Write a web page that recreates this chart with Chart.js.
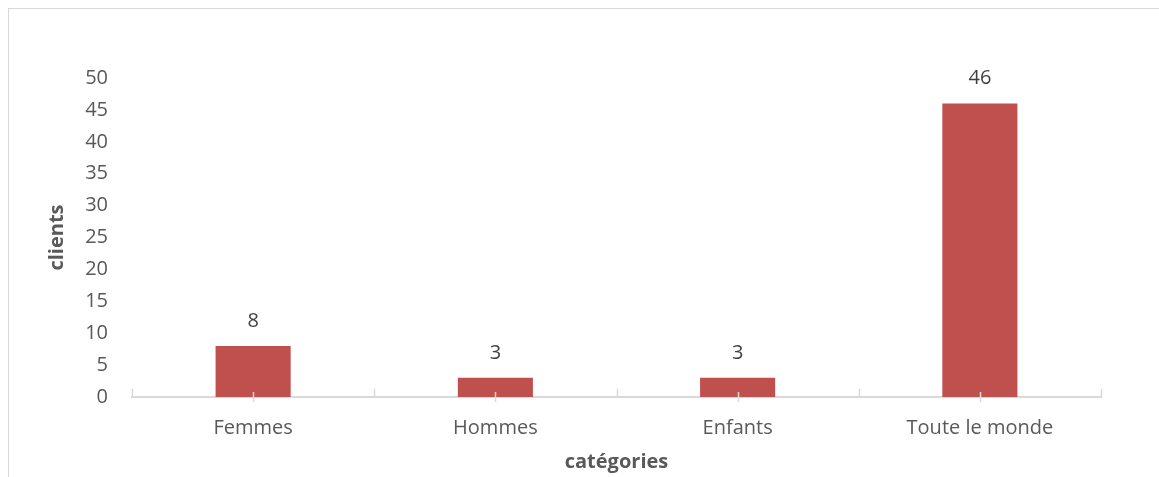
<!DOCTYPE html>
<html lang="fr">
<head>
    <meta charset="UTF-8">
    <title>clients par catégories</title>
    <script src="https://cdn.jsdelivr.net/npm/chart.js"></script>
    <style>
        html, body { margin: 0; padding: 0; background: #fff; }
        #wrap { width: 1159px; height: 477px; position: relative; }
    </style>
</head>
<body>
<div id="wrap">
    <canvas id="chart"></canvas>
</div>
<script>
const categories = ['Femmes', 'Hommes', 'Enfants', 'Toute le monde'];
const clients = [8, 3, 3, 46];
const yTicks = [0, 5, 10, 15, 20, 25, 30, 35, 40, 45, 50];

const FONT = '"Open Sans", sans-serif';
const TEXT = '#595959';
const AXIS = '#d9d9d9';

// cadre gris autour du graphique
const frame = {
    id: 'frame',
    beforeDraw(chart) {
        const ctx = chart.ctx;
        ctx.save();
        ctx.strokeStyle = AXIS;
        ctx.lineWidth = 1;
        ctx.strokeRect(8.5, 8.5, chart.width + 20, chart.height + 20);
        ctx.restore();
    }
};

// petites graduations sur l'axe des catégories
const xTicks = {
    id: 'xTicks',
    afterDraw(chart) {
        const x = chart.scales.x;
        const y0 = chart.chartArea.bottom;
        const ctx = chart.ctx;
        ctx.save();
        ctx.strokeStyle = AXIS;
        ctx.lineWidth = 1.5;
        ctx.beginPath();
        for (let i = 0; i <= categories.length; i++) {
            const px = Math.round(x.getPixelForValue(i - 0.5)) + 0.5;
            ctx.moveTo(px, y0 - 8);
            ctx.lineTo(px, y0);
        }
        for (let i = 0; i < categories.length; i++) {
            const px = Math.round(x.getPixelForValue(i)) + 0.5;
            ctx.moveTo(px, y0 - 5);
            ctx.lineTo(px, y0 + 5);
        }
        ctx.stroke();
        ctx.restore();
    }
};

// valeurs au-dessus des barres
const valueLabels = {
    id: 'valueLabels',
    afterDatasetsDraw(chart) {
        const ctx = chart.ctx;
        const meta = chart.getDatasetMeta(0);
        ctx.save();
        ctx.font = '20px ' + FONT;
        ctx.fillStyle = '#404040';
        ctx.textAlign = 'center';
        ctx.textBaseline = 'middle';
        meta.data.forEach((bar, i) => {
            ctx.fillText(String(clients[i]), bar.x, bar.y - 25);
        });
        ctx.restore();
    }
};

new Chart(document.getElementById('chart'), {
    type: 'bar',
    data: {
        labels: categories,
        datasets: [{
            label: 'clients',
            data: clients,
            backgroundColor: '#c0504d',
            borderWidth: 0,
            categoryPercentage: 1,
            barPercentage: 0.31
        }]
    },
    options: {
        responsive: true,
        maintainAspectRatio: false,
        animation: false,
        layout: { padding: { left: 0, right: 58, top: 78, bottom: 0 } },
        plugins: {
            legend: { display: false },
            tooltip: { enabled: false }
        },
        scales: {
            x: {
                grid: { display: false, drawTicks: false },
                border: { display: true, color: AXIS, width: 2 },
                ticks: {
                    color: TEXT,
                    padding: 19,
                    font: { family: FONT, size: 20 }
                },
                title: {
                    display: true,
                    text: 'catégories',
                    color: TEXT,
                    font: { family: FONT, size: 20, weight: 'bold' },
                    padding: { top: 0, bottom: 3 }
                },
                afterFit(scale) { scale.height = 80; }
            },
            y: {
                min: 0,
                max: 50,
                afterBuildTicks(scale) {
                    scale.ticks = yTicks.map(v => ({ value: v }));
                },
                grid: { display: false, drawTicks: false },
                border: { display: false },
                ticks: {
                    color: TEXT,
                    padding: 24,
                    font: { family: FONT, size: 20 }
                },
                title: {
                    display: true,
                    text: 'clients',
                    color: TEXT,
                    font: { family: FONT, size: 20, weight: 'bold' },
                    padding: { top: 45, bottom: 0 }
                },
                afterFit(scale) { scale.width = 132; }
            }
        }
    },
    plugins: [frame, xTicks, valueLabels]
});
</script>
</body>
</html>
